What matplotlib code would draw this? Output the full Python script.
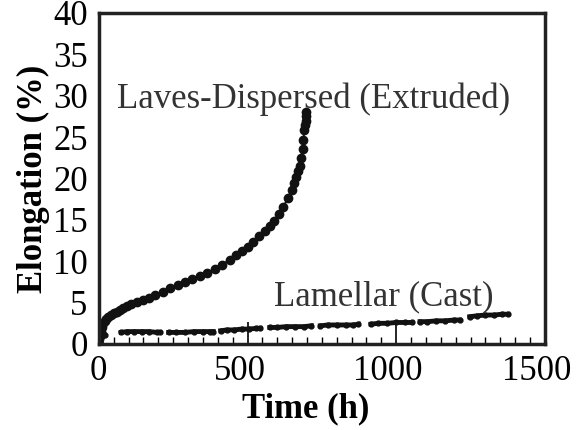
import numpy as np
import matplotlib
matplotlib.use("Agg")
import matplotlib.pyplot as plt
import matplotlib.transforms as mtransforms
from matplotlib.ticker import MultipleLocator

plt.rcParams['font.family'] = ['Liberation Serif', 'DejaVu Serif']

# Laves-Dispersed (Extruded) creep curve
laves_t = [0, 2, 4, 6, 8, 11, 15, 20, 25, 32, 40, 50, 60, 70, 80, 95, 110, 130,
           150, 170, 190, 215, 240, 265, 290, 315, 340, 365, 390, 415, 440, 460,
           480, 500, 520, 540, 560, 575, 590, 605, 620, 635, 648, 656, 663, 669,
           675, 680, 685, 688, 691, 693, 695, 697, 698]
laves_e = [0, 0.6, 1.0, 1.4, 1.8, 2.1, 2.5, 2.8, 3.0, 3.3, 3.5, 3.7, 3.9, 4.1, 4.3,
           4.6, 4.8, 5.1, 5.3, 5.6, 5.9, 6.3, 6.8, 7.1, 7.5, 7.8, 8.2, 8.6, 9.1,
           9.6, 10.2, 10.7, 11.2, 11.7, 12.3, 13.0, 13.7, 14.3, 14.9, 15.7, 16.5,
           17.6, 18.6, 19.4, 20.2, 20.9, 21.5, 22.5, 23.5, 24.7, 25.9, 26.5, 27.0,
           27.6, 28.0]

# Lamellar (Cast) creep curve, segments separated by gaps (nan)
lam_t = [0, 5, 12, 20, np.nan,
         75, 95, 120, 145, 170, 195, 205, np.nan,
         235, 260, 290, 320, 350, 375, 385, np.nan,
         410, 430, 455, 480, 505, 530, 543, np.nan,
         575, 600, 630, 660, 690, 715, np.nan,
         745, 770, 800, 830, 855, 873, np.nan,
         915, 940, 970, 1000, 1030, 1052, np.nan,
         1080, 1105, 1135, 1165, 1195, 1213, np.nan,
         1247, 1270, 1300, 1330, 1355, 1375]
lam_e = [0.3, 0.8, 1.0, 1.1, np.nan,
         1.4, 1.5, 1.5, 1.5, 1.5, 1.4, 1.4, np.nan,
         1.4, 1.4, 1.4, 1.5, 1.5, 1.5, 1.5, np.nan,
         1.6, 1.7, 1.7, 1.8, 1.8, 1.9, 1.9, np.nan,
         2.0, 2.0, 2.1, 2.1, 2.1, 2.2, np.nan,
         2.2, 2.3, 2.3, 2.3, 2.3, 2.4, np.nan,
         2.4, 2.5, 2.5, 2.6, 2.6, 2.6, np.nan,
         2.7, 2.7, 2.8, 2.8, 2.9, 2.9, np.nan,
         3.3, 3.4, 3.5, 3.5, 3.6, 3.6]

fig = plt.figure(figsize=(5.81, 4.30), dpi=100)
ax = fig.add_axes([0.170, 0.200, 0.768, 0.770])

ax.plot(laves_t, laves_e, '-', color='#111111', lw=1.4,
        marker='o', ms=6, mfc='#111111', mec='#111111')
ax.plot(lam_t, lam_e, '-', color='#111111', lw=3.5,
        marker='o', ms=3.5, mfc='#111111', mec='#111111')

ax.set_xlim(0, 1500)
ax.set_ylim(0, 40)
ax.set_xticks([0, 500, 1000, 1500])
ax.set_yticks(range(0, 41, 5))
ax.xaxis.set_minor_locator(MultipleLocator(50))
ax.tick_params(axis='x', which='major', direction='in', length=16, width=1.2,
               labelsize=25, pad=8)
ax.tick_params(axis='x', which='minor', direction='in', length=5, width=1)
ax.tick_params(axis='y', which='both', length=0, labelsize=25, pad=8)
for s in ax.spines.values():
    s.set_linewidth(2.5)
    s.set_color('#222222')

# labels sit slightly left of their ticks in the original
shift = mtransforms.ScaledTranslation(-0.08, 0, fig.dpi_scale_trans)
for lab in ax.get_xticklabels()[1:]:
    lab.set_transform(lab.get_transform() + shift)

ax.set_xlabel('Time (h)', fontsize=25, fontweight='bold', labelpad=0)
ax.xaxis.set_label_coords(0.464, -0.145)
ax.set_ylabel('Elongation (%)', fontsize=25, fontweight='bold', labelpad=2)

ax.text(61, 28.5, 'Laves-Dispersed (Extruded)', fontsize=25, color='#333333')
ax.text(589, 4.7, 'Lamellar (Cast)', fontsize=25, color='#333333')

fig.savefig('out.png', dpi=100)
